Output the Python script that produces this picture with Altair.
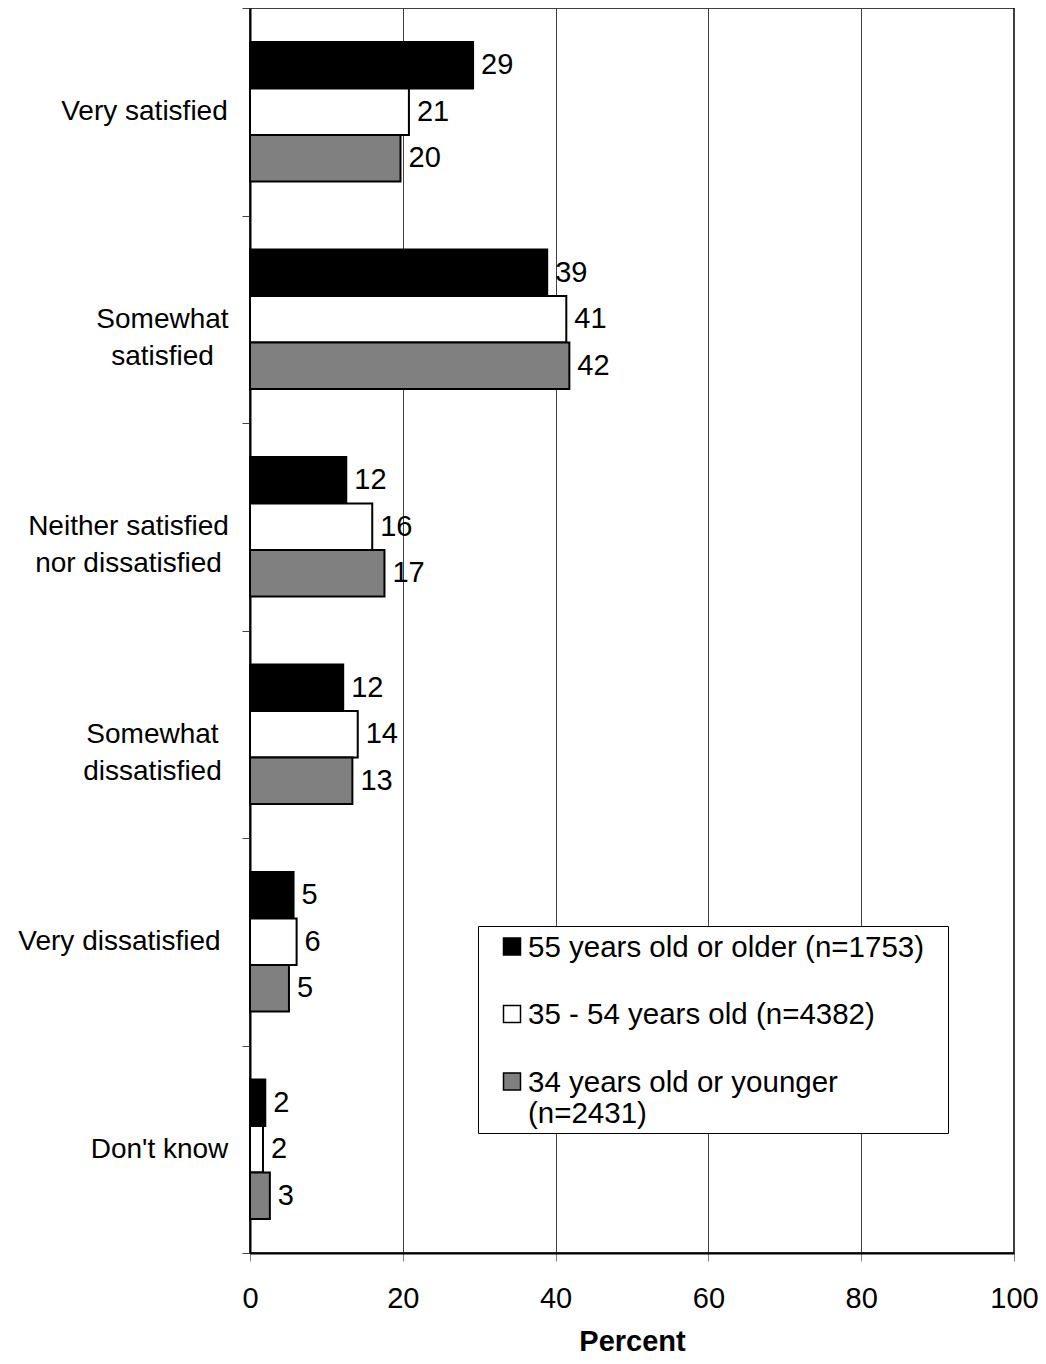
import json
import altair as alt
import pandas as pd

# ---------------- data ----------------
CATEGORIES = [
    "Very satisfied",
    "Somewhat|satisfied",
    "Neither satisfied|nor dissatisfied",
    "Somewhat|dissatisfied",
    "Very dissatisfied",
    "Don't know",
]
GROUPS = [
    "55 years old or older (n=1753)",
    "35 - 54 years old (n=4382)",
    "34 years old or younger|(n=2431)",
]
COLORS = ["#000000", "#ffffff", "#808080"]

VALUES_55_PLUS = [29.2, 38.9, 12.6, 12.2, 5.7, 2.0]
VALUES_35_54 = [20.8, 41.4, 16.0, 14.1, 6.1, 1.7]
VALUES_34_UNDER = [19.7, 41.8, 17.6, 13.4, 5.1, 2.6]

LABELS_55_PLUS = ["29", "39", "12", "12", "5", "2"]
LABELS_35_54 = ["21", "41", "16", "14", "6", "2"]
LABELS_34_UNDER = ["20", "42", "17", "13", "5", "3"]

X_TICKS = [0, 20, 40, 60, 80, 100]

# style: distance of each (centred) category label from the tick end
Y_LABEL_PADDING = [98, 80, 114, 90, 123, 83]

rows = []
for g, vals, labs in zip(GROUPS,
                         [VALUES_55_PLUS, VALUES_35_54, VALUES_34_UNDER],
                         [LABELS_55_PLUS, LABELS_35_54, LABELS_34_UNDER]):
    for c, v, l in zip(CATEGORIES, vals, labs):
        rows.append({"category": c, "group": g, "value": v, "label": l})
df = pd.DataFrame(rows)

FONT = "Liberation Sans"

pad_cond = {
    "condition": [
        {"test": "datum.value === " + json.dumps(c), "value": p}
        for c, p in zip(CATEGORIES, Y_LABEL_PADDING)
    ],
    "value": 100,
}

y_enc = alt.Y(
    "category:N",
    sort=CATEGORIES,
    scale=alt.Scale(domain=CATEGORIES, paddingInner=0, paddingOuter=0),
    axis=alt.Axis(
        title=None,
        tickBand="extent",
        tickSize=8,
        tickColor="#444444",
        tickWidth=1,
        domainColor="#000000",
        domainWidth=2,
        labelFontSize=28,
        labelFont=FONT,
        labelColor="#000000",
        labelAlign="center",
        labelBaseline="middle",
        labelLineHeight=37,
        labelLimit=500,
        labelExpr="split(datum.label, '|')",
        labelPadding=pad_cond,
        grid=False,
    ),
)
yoff_enc = alt.YOffset(
    "group:N",
    sort=GROUPS,
    scale=alt.Scale(domain=GROUPS, paddingInner=0, paddingOuter=0.729),
)

x_enc = alt.X(
    "value:Q",
    scale=alt.Scale(domain=[0, 100], nice=False),
    axis=alt.Axis(
        values=X_TICKS,
        title="Percent",
        titleFont=FONT,
        titleFontSize=29,
        titleFontWeight="bold",
        titleColor="#000000",
        titleBaseline="alphabetic",
        titleY=97,
        tickSize=8,
        tickColor="#808080",
        tickWidth=1,
        domainColor="#000000",
        domainWidth=2,
        labelFont=FONT,
        labelFontSize=29,
        labelColor="#000000",
        labelPadding=23,
        labelFlush=False,
        grid=True,
        gridColor="#404040",
        gridWidth=1,
    ),
)

# square legend symbol, raised so it sits beside the text's x-height;
# the trailing move-to point only widens the legend frame (draws nothing)
LEGEND_SYMBOL = "M-1,-2.2H1V-0.2H-1ZM50.4,-1"

bars = alt.Chart(df).mark_bar(stroke="#000000", strokeWidth=2).encode(
    y=y_enc,
    yOffset=yoff_enc,
    x=x_enc,
    color=alt.Color(
        "group:N",
        sort=GROUPS,
        scale=alt.Scale(domain=GROUPS, range=COLORS),
        legend=alt.Legend(
            title=" ",
            titleFontSize=8,
            titlePadding=4,
            orient="none",
            legendX=228,
            legendY=918,
            direction="vertical",
            fillColor="#ffffff",
            strokeColor="#000000",
            padding=4,
            labelFont=FONT,
            labelFontSize=29.5,
            labelColor="#000000",
            labelLimit=600,
            labelBaseline="alphabetic",
            labelExpr="split(datum.label, '|')",
            labelOffset=1.25,
            symbolOffset=15.25,
            symbolType=LEGEND_SYMBOL,
            symbolSize=289,
            symbolStrokeColor="#000000",
            symbolStrokeWidth=1.5,
            rowPadding=36.5,
        ),
    ),
)

text = alt.Chart(df).mark_text(
    align="left", baseline="middle", dx=8, fontSize=29, font=FONT, color="#000000"
).encode(
    y=alt.Y("category:N", sort=CATEGORIES),
    yOffset=alt.YOffset("group:N", sort=GROUPS),
    x=alt.X("value:Q"),
    text=alt.Text("label:N"),
)

chart = (
    alt.layer(bars, text)
    .properties(
        width=764,
        height=1245,
        autosize=alt.AutoSizeParams(type="none"),
        padding={"left": 242, "top": 0, "right": 24, "bottom": 103},
    )
    .configure(font=FONT)
    .configure_view(stroke="#000000", strokeWidth=1.5)
)

chart.save("out.html", embed_options={"renderer": "svg", "actions": False})
